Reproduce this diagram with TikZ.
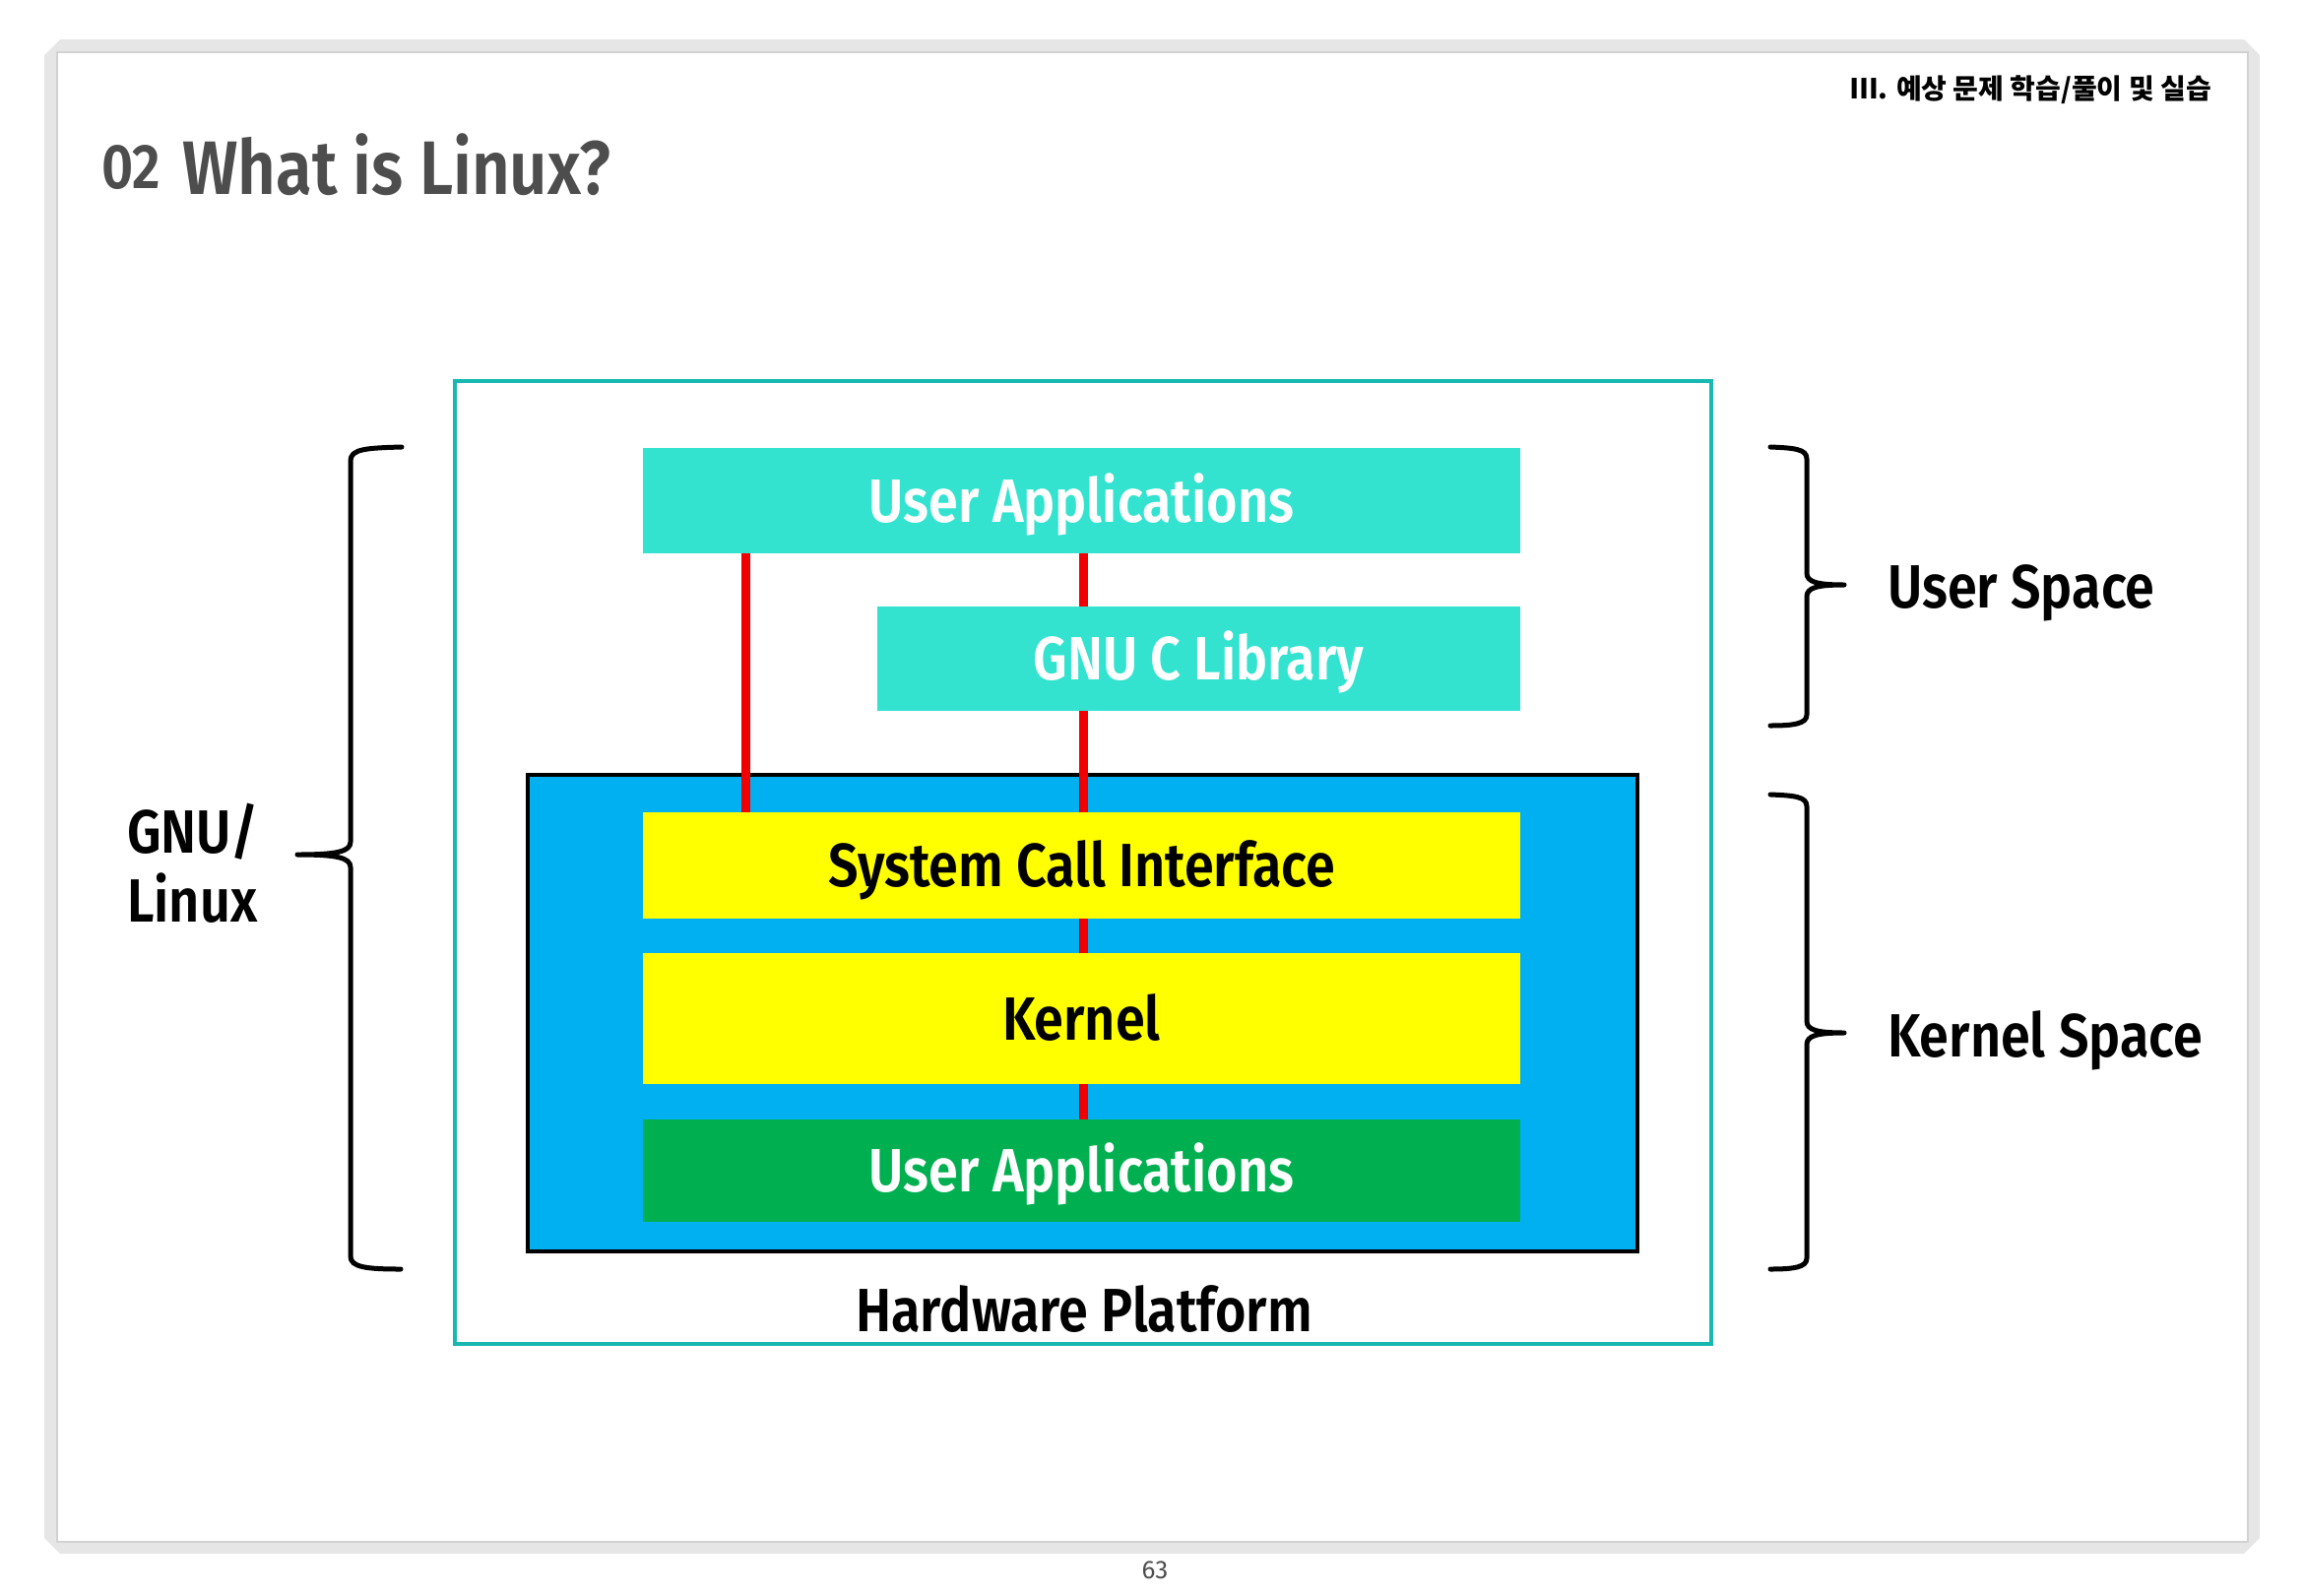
\documentclass[tikz,border=0pt]{standalone}
\usepackage{fontspec}
\IfFontExistsTF{Fira Sans SemiBold}
  {\setmainfont{Fira Sans}[FakeStretch=0.87, BoldFont={Fira Sans SemiBold}, BoldFeatures={FakeStretch=0.87}]}
  {\setmainfont{Fira Sans}[FakeStretch=0.87]}
\newfontfamily\krfont{Noto Sans CJK KR}
\newfontfamily\numfont{Fira Sans}
\definecolor{turq}{RGB}{51,227,208}
\definecolor{blueC}{RGB}{0,176,240}
\definecolor{yellowC}{RGB}{255,255,0}
\definecolor{greenC}{RGB}{0,176,80}
\definecolor{tealC}{RGB}{23,184,176}
\definecolor{frameC}{RGB}{230,230,230}
\definecolor{frameE}{RGB}{210,210,210}
\definecolor{titleC}{RGB}{77,77,77}
\definecolor{redC}{RGB}{240,0,0}
\begin{document}
\begin{tikzpicture}[x=1pt,y=-1pt,
  lab/.style={font=\fontsize{62}{74}\selectfont\bfseries, inner sep=0pt},
  layer/.style={lab, draw=none, minimum width=891pt, text height=43pt, text depth=0pt},
  brace/.style={line width=5pt, line cap=round, line join=round},
  redline/.style={draw=redC, line width=9pt}]
\useasboundingbox (0,0) rectangle (2340,1620);
% page frame
\fill[frameC] (61,40) -- (2279,40) -- (2295,56) -- (2295,1562) -- (2279,1578) -- (61,1578) -- (45,1562) -- (45,56) -- cycle;
\fill[white] (58,53) rectangle (2283,1566);
\draw[frameE, line width=1.2pt] (58,53) rectangle (2283,1566);
% header and title
\node[font=\krfont\fontsize{28}{34}\selectfont\bfseries, anchor=east, inner sep=0pt] (hdr) at (2246,91) {Ⅲ. 예상 문제 학습/풀이 및 실습};
\node[font=\fontsize{64}{70}\selectfont\bfseries, text=titleC, anchor=base west, inner sep=0pt] (num) at (103,191) {02};
\node[font=\fontsize{77}{84}\selectfont\bfseries, text=titleC, anchor=base west, inner sep=0pt] (title) at (185,197) {What is Linux?};
\node[font=\numfont\fontsize{26}{30}\selectfont, text=titleC, inner sep=0pt] (page) at (1173,1595) {63};
% outer platform box
\node[draw=tealC, line width=4pt, minimum width=1276pt, minimum height=978pt, inner sep=0pt] (outer) at (1100,876) {};
\node[lab, anchor=base] (hwl) at (1101,1352) {Hardware Platform};
% kernel area
\node[draw=black, fill=blueC, line width=4pt, minimum width=1127pt, minimum height=484pt, inner sep=0pt] (kbox) at (1099.5,1029) {};
% layers
\node[layer, fill=turq, text=white, minimum height=107pt] (ua) at (1098.5,508.5) {User Applications};
\node[layer, fill=turq, text=white, minimum width=653pt, minimum height=106pt] (glibc) at (1217.5,669) {GNU C Library};
\node[layer, fill=yellowC, text=black, minimum height=108pt] (sci) at (1098.5,879) {System Call Interface};
\node[layer, fill=yellowC, text=black, minimum height=133pt] (kern) at (1098.5,1034.5) {Kernel};
\node[layer, fill=greenC, text=white, minimum height=104pt] (hwua) at (1098.5,1189) {User Applications};
% red links
\coordinate (lx) at (757,0);
\coordinate (cx) at (1100,0);
\draw[redline] (ua.south -| lx) -- (sci.north -| lx);
\draw[redline] (ua.south -| cx) -- (glibc.north -| cx);
\draw[redline] (glibc.south -| cx) -- (sci.north -| cx);
\draw[redline] (sci.south -| cx) -- (kern.north -| cx);
\draw[redline] (kern.south -| cx) -- (hwua.north -| cx);
% braces
\draw[brace] (408,454) .. controls (372,455) and (356,456) .. (356,468) -- (356,855)
  .. controls (356,865) and (342,868) .. (302,868)
  .. controls (342,868) and (356,871) .. (356,881) -- (356,1276)
  .. controls (356,1287) and (372,1289) .. (407,1289);
\draw[brace] (1798,454) .. controls (1822,455) and (1835,456) .. (1835,466) -- (1835,582)
  .. controls (1835,591) and (1845,594) .. (1873,594)
  .. controls (1845,594) and (1835,597) .. (1835,606) -- (1835,726)
  .. controls (1835,735) and (1822,737) .. (1798,737);
\draw[brace] (1798,807) .. controls (1822,808) and (1835,809) .. (1835,819) -- (1835,1037)
  .. controls (1835,1046) and (1845,1049) .. (1873,1049)
  .. controls (1845,1049) and (1835,1052) .. (1835,1061) -- (1835,1278)
  .. controls (1835,1287) and (1822,1289) .. (1798,1289);
% side labels
\node[lab, anchor=base west] (gnu) at (129,866) {GNU/};
\node[lab, anchor=base west] (linux) at (129,936) {Linux};
\node[lab, anchor=base west] (us) at (1917,617) {User Space};
\node[lab, anchor=base west] (ks) at (1917,1073) {Kernel Space};
\end{tikzpicture}
\end{document}
